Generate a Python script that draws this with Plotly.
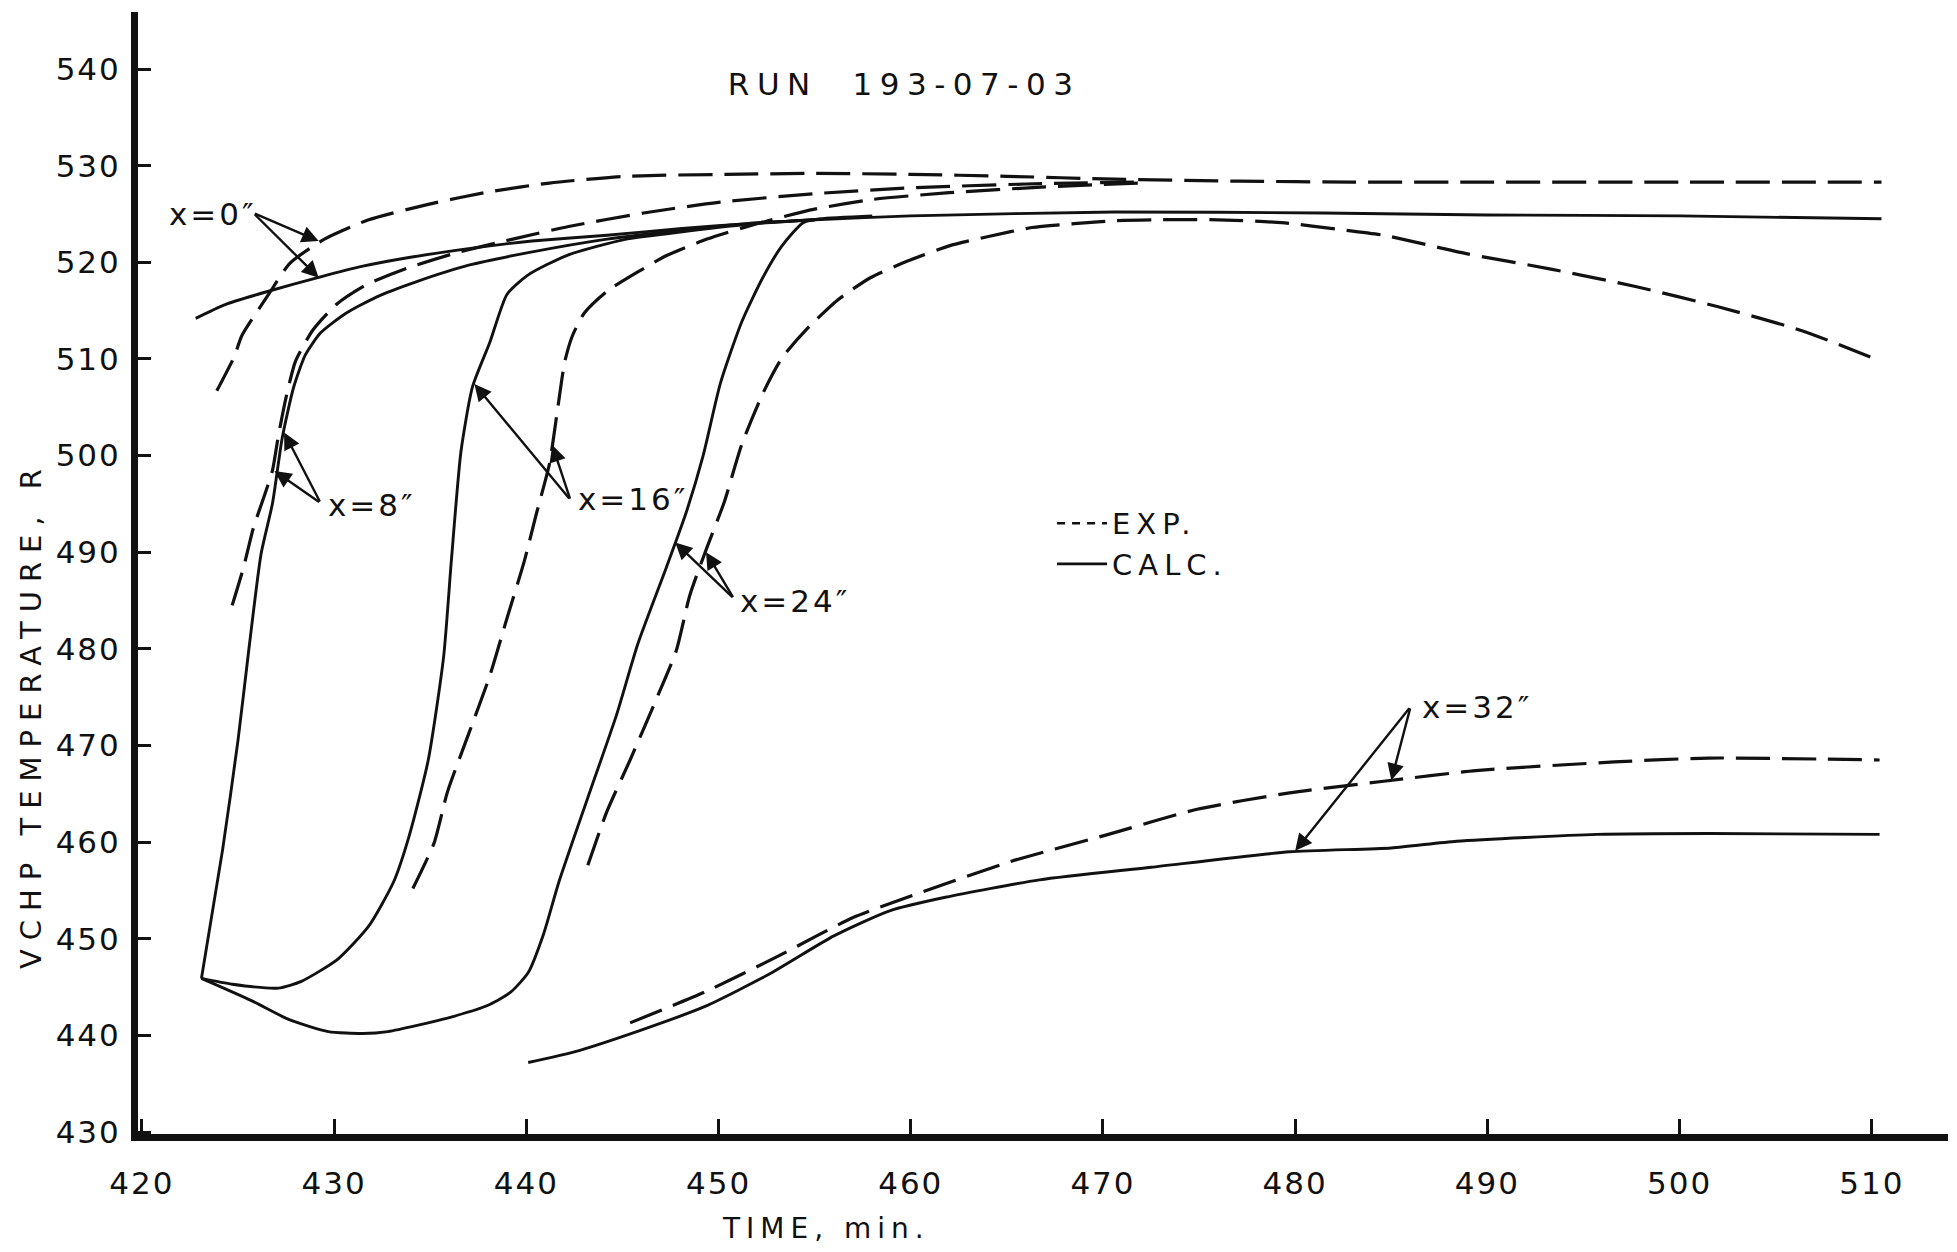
import plotly.graph_objects as go

# ---------------- data (time in min, temperature in R) ----------------
calc_x0_t = [422.8, 424.3, 426.4, 429.3, 431.5, 433.9, 438.1, 440.3, 444.2, 448.1, 451.5, 455.0, 460.0, 470.6, 481.4, 490.0, 500.0, 510.5]
calc_x0_v = [514.2, 515.6, 516.9, 518.5, 519.6, 520.5, 521.7, 522.2, 522.8, 523.5, 524.0, 524.4, 524.8, 525.2, 525.1, 524.9, 524.8, 524.5]

exp_x0_t = [423.9, 424.8, 425.2, 426.6, 427.7, 429.5, 431.8, 434.9, 438.1, 441.2, 445.2, 450.4, 455.0, 460.0, 465.0, 470.6, 477.0, 483.0, 490.0, 500.0, 510.5]
exp_x0_v = [506.7, 510.2, 512.4, 516.7, 519.9, 522.4, 524.4, 526.0, 527.3, 528.2, 528.9, 529.1, 529.2, 529.1, 528.9, 528.6, 528.4, 528.3, 528.3, 528.3, 528.3]

calc_x8_t = [423.1, 424.2, 425.0, 425.6, 426.2, 426.8, 427.3, 427.9, 428.5, 429.3, 430.6, 432.2, 434.3, 437.0, 440.1, 444.2, 448.4, 451.5, 455.0]
calc_x8_v = [445.9, 459.2, 470.5, 480.5, 489.8, 495.1, 501.8, 507.1, 510.4, 512.7, 514.7, 516.4, 518.0, 519.7, 521.0, 522.4, 523.4, 524.0, 524.4]

exp_x8_t = [424.7, 425.3, 425.8, 426.4, 426.8, 427.1, 427.5, 428.0, 428.9, 430.1, 431.7, 433.8, 436.4, 439.3, 442.2, 446.1, 450.0, 455.0, 460.0, 466.0, 472.0]
exp_x8_v = [484.5, 488.5, 492.5, 496.0, 498.5, 502.0, 506.0, 509.8, 513.0, 515.6, 517.7, 519.4, 521.0, 522.4, 523.7, 525.1, 526.2, 527.1, 527.7, 528.1, 528.3]

calc_x16_t = [423.1, 424.7, 427.1, 428.3, 430.2, 431.8, 433.1, 433.9, 434.9, 435.7, 436.1, 436.6, 437.2, 438.1, 439.0, 440.1, 442.1, 445.2, 448.3, 451.9, 455.0]
calc_x16_v = [445.9, 445.3, 444.9, 445.6, 447.9, 451.3, 455.9, 460.6, 468.5, 479.2, 489.1, 500.4, 507.1, 511.7, 516.7, 518.7, 520.7, 522.4, 523.2, 524.0, 524.4]

exp_x16_t = [434.1, 435.2, 435.9, 437.0, 438.1, 439.0, 439.9, 440.5, 441.2, 441.6, 442.0, 442.4, 443.0, 444.2, 445.8, 447.3, 449.4, 452.0, 455.0, 458.0, 462.0, 467.0, 472.0]
exp_x16_v = [455.2, 459.9, 465.2, 471.2, 477.2, 483.2, 489.1, 493.8, 499.1, 504.4, 509.7, 512.4, 514.7, 517.0, 519.0, 520.7, 522.4, 524.0, 525.5, 526.5, 527.2, 527.8, 528.2]

calc_x24_t = [423.1, 425.7, 427.7, 429.7, 431.5, 432.8, 435.9, 438.1, 439.2, 440.1, 440.9, 441.7, 443.2, 444.7, 445.8, 447.3, 448.3, 449.2, 450.1, 451.2, 452.3, 453.3, 454.4, 455.3, 458.0]
calc_x24_v = [445.9, 443.6, 441.6, 440.4, 440.2, 440.4, 441.8, 443.2, 444.5, 446.5, 450.5, 455.9, 464.6, 473.2, 480.5, 488.5, 494.0, 500.0, 507.5, 513.8, 518.4, 521.7, 524.1, 524.5, 524.8]

exp_x24_t = [443.2, 444.2, 445.4, 446.7, 447.8, 448.5, 449.4, 450.3, 451.2, 452.3, 453.3, 454.6, 456.2, 457.9, 459.8, 462.0, 464.1, 466.3, 468.5, 470.6, 472.8, 476.0, 479.3, 482.3, 484.6, 488.9, 493.3, 497.7, 502.0, 506.4, 510.3]
exp_x24_v = [457.6, 463.2, 468.5, 474.5, 479.8, 485.5, 490.5, 495.2, 501.1, 506.4, 510.1, 513.1, 516.1, 518.4, 520.1, 521.7, 522.7, 523.6, 524.0, 524.3, 524.4, 524.4, 524.1, 523.4, 522.8, 520.9, 519.3, 517.5, 515.4, 512.9, 509.9]

calc_x32_t = [440.1, 442.5, 445.9, 449.3, 452.6, 456.0, 458.9, 461.8, 466.7, 472.5, 479.7, 485.0, 488.4, 495.7, 501.5, 510.4]
calc_x32_v = [437.2, 438.3, 440.5, 443.0, 446.3, 450.3, 452.9, 454.3, 456.1, 457.4, 459.0, 459.4, 460.1, 460.8, 460.9, 460.8]

exp_x32_t = [445.4, 449.3, 453.1, 457.0, 460.4, 465.2, 470.1, 474.9, 479.7, 484.6, 489.4, 496.6, 501.5, 510.4]
exp_x32_v = [441.3, 444.5, 448.2, 452.2, 454.7, 458.0, 460.7, 463.4, 465.1, 466.3, 467.4, 468.3, 468.7, 468.5]

x_ticks = [420, 430, 440, 450, 460, 470, 480, 490, 500, 510]
y_ticks = [430, 440, 450, 460, 470, 480, 490, 500, 510, 520, 530, 540]

# station labels and arrows
label_text = ["x=0\u2033", "x=8\u2033", "x=16\u2033", "x=24\u2033", "x=32\u2033"]
label_t = [426.1, 429.6, 442.6, 451.0, 486.5]
label_v = [525.0, 494.9, 495.5, 485.0, 474.0]
label_anchor = ["right", "left", "left", "left", "left"]

arrow_tail_t = [425.8, 425.8, 429.3, 429.3, 442.3, 442.3, 450.8, 450.8, 486.0, 486.0]
arrow_tail_v = [525.1, 525.1, 495.1, 495.1, 495.4, 495.4, 485.2, 485.2, 474.0, 474.0]
arrow_head_t = [429.2, 429.2, 427.4, 426.9, 437.3, 441.35, 447.75, 449.35, 480.0, 485.0]
arrow_head_v = [522.2, 518.4, 502.4, 498.4, 507.4, 501.1, 491.0, 490.0, 459.1, 466.4]

FONT = "DejaVu Sans"
INK = "#111111"
DASH = "34px,12px"


def spaced(text, px):
    return '<span style="letter-spacing:%spx">%s</span>' % (px, text)


fig = go.Figure()

series = [
    (calc_x0_t, calc_x0_v, "solid"), (exp_x0_t, exp_x0_v, "dash"),
    (calc_x8_t, calc_x8_v, "solid"), (exp_x8_t, exp_x8_v, "dash"),
    (calc_x16_t, calc_x16_v, "solid"), (exp_x16_t, exp_x16_v, "dash"),
    (calc_x24_t, calc_x24_v, "solid"), (exp_x24_t, exp_x24_v, "dash"),
    (calc_x32_t, calc_x32_v, "solid"), (exp_x32_t, exp_x32_v, "dash"),
]
for t, v, kind in series:
    fig.add_trace(go.Scatter(
        x=t, y=v, mode="lines", showlegend=False, hoverinfo="skip",
        line=dict(color=INK, width=2.9 if kind == "solid" else 3.2,
                  dash="solid" if kind == "solid" else DASH,
                  shape="spline", smoothing=0.6),
    ))

# legend-only entries
fig.add_trace(go.Scatter(x=[None], y=[None], mode="lines", name=spaced("EXP.", 6),
                         line=dict(color=INK, width=2.4, dash="8px,7px")))
fig.add_trace(go.Scatter(x=[None], y=[None], mode="lines", name=spaced("CALC.", 6),
                         line=dict(color=INK, width=2.8)))

ann = []
for txt, t, v, a in zip(label_text, label_t, label_v, label_anchor):
    ann.append(dict(x=t, y=v, xref="x", yref="y", text=spaced(txt, 3), showarrow=False,
                    xanchor=a, yanchor="middle",
                    font=dict(family=FONT, size=31, color=INK)))
for tt, tv, ht, hv in zip(arrow_tail_t, arrow_tail_v, arrow_head_t, arrow_head_v):
    ann.append(dict(x=ht, y=hv, xref="x", yref="y", ax=tt, ay=tv, axref="x", ayref="y",
                    text="", showarrow=True, arrowhead=2, arrowsize=1.4,
                    arrowwidth=2.4, arrowcolor=INK, standoff=0, startstandoff=0))

# axis titles
ann.append(dict(x=0.380, y=-0.0845, xref="paper", yref="paper",
                text=spaced("TIME, min.", 6),
                showarrow=False, xanchor="center", yanchor="middle",
                font=dict(family=FONT, size=28, color=INK)))
ann.append(dict(x=-0.0591, y=0.3734, xref="paper", yref="paper",
                text=spaced("VCHP TEMPERATURE, R", 9),
                showarrow=False, xanchor="center", yanchor="middle", textangle=-90,
                font=dict(family=FONT, size=29, color=INK)))

fig.update_layout(
    width=1957, height=1252,
    margin=dict(l=138, r=9, t=12, b=118),
    paper_bgcolor="white", plot_bgcolor="white",
    title=dict(text=spaced("RUN\u00a0\u00a0193-07-03", 7.5),
               x=0.462, y=0.933, xanchor="center", yanchor="middle",
               font=dict(family=FONT, size=31, color=INK)),
    legend=dict(x=0.505, y=0.567, xanchor="left", yanchor="top",
                bgcolor="rgba(0,0,0,0)", itemwidth=50,
                font=dict(family=FONT, size=29, color=INK), tracegroupgap=0),
    annotations=ann,
    font=dict(family=FONT, color=INK),
)
fig.update_xaxes(range=[419.8, 513.96], tickvals=x_ticks,
                 ticktext=[spaced(str(v), 2) for v in x_ticks],
                 ticks="inside", ticklen=15,
                 tickwidth=3, tickcolor=INK, showline=True, linewidth=7, linecolor=INK,
                 showgrid=False, zeroline=False, ticklabelstandoff=16,
                 tickfont=dict(family=FONT, size=31, color=INK))
fig.update_yaxes(range=[429.8, 545.9], tickvals=y_ticks,
                 ticktext=[spaced(str(v), 2) for v in y_ticks],
                 ticks="inside", ticklen=13,
                 tickwidth=3, tickcolor=INK, showline=True, linewidth=7, linecolor=INK,
                 showgrid=False, zeroline=False, ticklabelstandoff=4,
                 tickfont=dict(family=FONT, size=31, color=INK))

fig.write_html("out.html")
